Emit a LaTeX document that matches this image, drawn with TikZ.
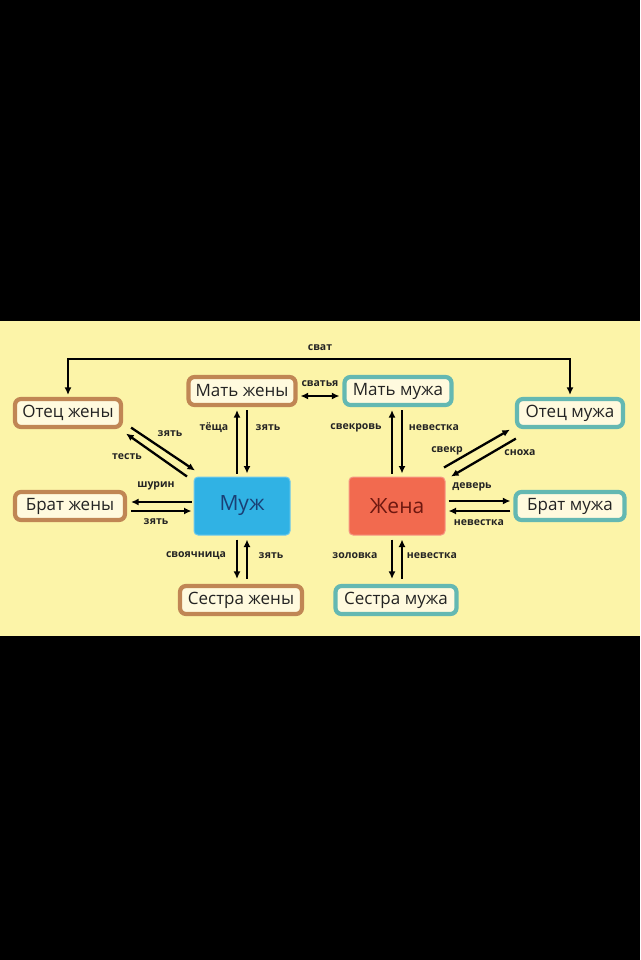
\documentclass[tikz,border=0pt]{standalone}
\usepackage{fontspec}
\setmainfont{Open Sans}
\usetikzlibrary{arrows.meta}
\definecolor{bgyellow}{RGB}{252,244,168}
\definecolor{boxfill}{RGB}{255,250,222}
\definecolor{wbrown}{RGB}{192,134,84}
\definecolor{hteal}{RGB}{100,184,178}
\definecolor{muzhblue}{RGB}{48,178,228}
\definecolor{muzhtext}{RGB}{26,63,117}
\definecolor{zhenared}{RGB}{242,106,79}
\definecolor{zhenatext}{RGB}{110,24,16}
\definecolor{txt}{RGB}{35,35,35}
\tikzset{
  rel/.style={rectangle, rounded corners=6pt, line width=4.2pt, fill=boxfill,
    inner sep=0pt, minimum height=28pt, text=txt, font=\fontsize{17}{19}\selectfont},
  wrel/.style={rel, draw=wbrown},
  hrel/.style={rel, draw=hteal},
  core/.style={rectangle, rounded corners=4pt, inner sep=0pt, minimum width=96pt,
    minimum height=58pt, font=\fontsize{21}{23}\selectfont},
  arr/.style={line width=2.3pt, -{Latex[length=7.5pt,width=7pt]}},
  darr/.style={line width=2.3pt, {Latex[length=7.5pt,width=7pt]}-{Latex[length=7.5pt,width=7pt]}},
  lbl/.style={font=\bfseries\fontsize{10.5}{12}\selectfont, text=txt, inner sep=0pt},
}
\begin{document}
\begin{tikzpicture}[x=1pt,y=-1pt]
\useasboundingbox (0,0) rectangle (640,960);
\fill[black] (0,0) rectangle (640,960);
\fill[bgyellow] (0,321) rectangle (640,636);

% nodes
\node[wrel, minimum width=106pt] (oz) at (68,413) {Отец жены};
\node[wrel, minimum width=107pt] (mz) at (242,391) {Мать жены};
\node[hrel, minimum width=107pt] (mm) at (398,391) {Мать мужа};
\node[hrel, minimum width=106pt] (om) at (570,413) {Отец мужа};
\node[wrel, minimum width=110pt] (bz) at (70,506) {Брат жены};
\node[hrel, minimum width=109pt] (bm) at (570,506) {Брат мужа};
\node[wrel, minimum width=122pt] (sz) at (241,600) {Сестра жены};
\node[hrel, minimum width=121pt] (sm) at (396,600) {Сестра мужа};
\node[core, fill=muzhblue, draw=muzhblue!70!white, line width=1pt, text=muzhtext] (muzh) at (242,506) {Муж};
\node[core, fill=zhenared, draw=zhenared!70!white, line width=1pt, text=zhenatext] (zhena) at (397,506) {Жена};

% сват
\coordinate (svatmid) at (320,359);
\draw[darr, shorten <=2pt, shorten >=2pt] (oz.north) |- (svatmid) -| (om.north);
\node[lbl] (lsvat) at (320,348) {сват};

% сватья
\draw[darr, shorten <=3pt, shorten >=3pt] ([yshift=-5pt]mz.east) -- ([yshift=-5pt]mm.west);
\node[lbl] (lsvatya) at (320,384) {сватья};

% Муж - Мать жены
\draw[arr, shorten <=3pt, shorten >=3pt] ([xshift=-5pt]muzh.north) -- ([xshift=-5pt]mz.south);
\draw[arr, shorten <=3pt, shorten >=3pt] ([xshift=5pt]mz.south) -- ([xshift=5pt]muzh.north);
\node[lbl] (ltesha) at (214,428) {тёща};
\node[lbl] (lzyat1) at (268,428) {зять};

% Жена - Мать мужа
\draw[arr, shorten <=3pt, shorten >=3pt] ([xshift=-5pt]zhena.north) -- ([xshift=-6pt]mm.south);
\draw[arr, shorten <=3pt, shorten >=3pt] ([xshift=4pt]mm.south) -- ([xshift=5pt]zhena.north);
\node[lbl] (lsvekrov) at (356,428) {свекровь};
\node[lbl] (lnev1) at (434,428) {невестка};

% Отец жены - Муж
\draw[arr] ([xshift=8pt,yshift=1.5pt]oz.south east) -- ([xshift=1.5pt,yshift=6pt]muzh.north west);
\draw[arr] ([xshift=-6.5pt,yshift=0pt]muzh.north west) -- ([xshift=3pt,yshift=-4.5pt]oz.south east);
\node[lbl] (lzyat2) at (170,434) {зять};
\node[lbl] (ltest) at (127,457) {тесть};

% Отец мужа - Жена
\draw[arr] ([xshift=-1.5pt,yshift=9pt]zhena.north east) -- ([xshift=-5pt,yshift=-0.5pt]om.south west);
\draw[arr] ([xshift=1pt,yshift=-9.5pt]om.south west) -- ([xshift=5.5pt,yshift=0pt]zhena.north east);
\node[lbl] (lsvekr) at (447,451) {свекр};
\node[lbl] (lsnoha) at (520,453) {сноха};

% Брат жены - Муж
\draw[arr, shorten <=2pt, shorten >=4pt] ([yshift=4pt]muzh.west) -- ([yshift=4pt]bz.east);
\draw[arr, shorten <=4pt, shorten >=2pt] ([yshift=-5pt]bz.east) -- ([yshift=-5pt]muzh.west);
\node[lbl] (lshurin) at (156,486) {шурин};
\node[lbl] (lzyat3) at (156,522) {зять};

% Жена - Брат мужа
\draw[arr, shorten <=3pt, shorten >=3pt] ([yshift=5pt]zhena.east) -- ([yshift=5pt]bm.west);
\draw[arr, shorten <=3pt, shorten >=3pt] ([yshift=-5pt]bm.west) -- ([yshift=-5pt]zhena.east);
\node[lbl] (ldever) at (472,487) {деверь};
\node[lbl] (lnev2) at (479,523) {невестка};

% Муж - Сестра жены
\draw[arr, shorten <=4pt, shorten >=5pt] ([xshift=-5pt]muzh.south) -- ([xshift=-4pt]sz.north);
\draw[arr, shorten <=5pt, shorten >=4pt] ([xshift=6pt]sz.north) -- ([xshift=5pt]muzh.south);
\node[lbl] (lsvoyach) at (196,556) {своячница};
\node[lbl] (lzyat4) at (271,556) {зять};

% Жена - Сестра мужа
\draw[arr, shorten <=4pt, shorten >=5pt] ([xshift=-5pt]zhena.south) -- ([xshift=-4pt]sm.north);
\draw[arr, shorten <=5pt, shorten >=4pt] ([xshift=6pt]sm.north) -- ([xshift=5pt]zhena.south);
\node[lbl] (lzolovka) at (355,556) {золовка};
\node[lbl] (lnev3) at (432,556) {невестка};
\end{tikzpicture}
\end{document}
